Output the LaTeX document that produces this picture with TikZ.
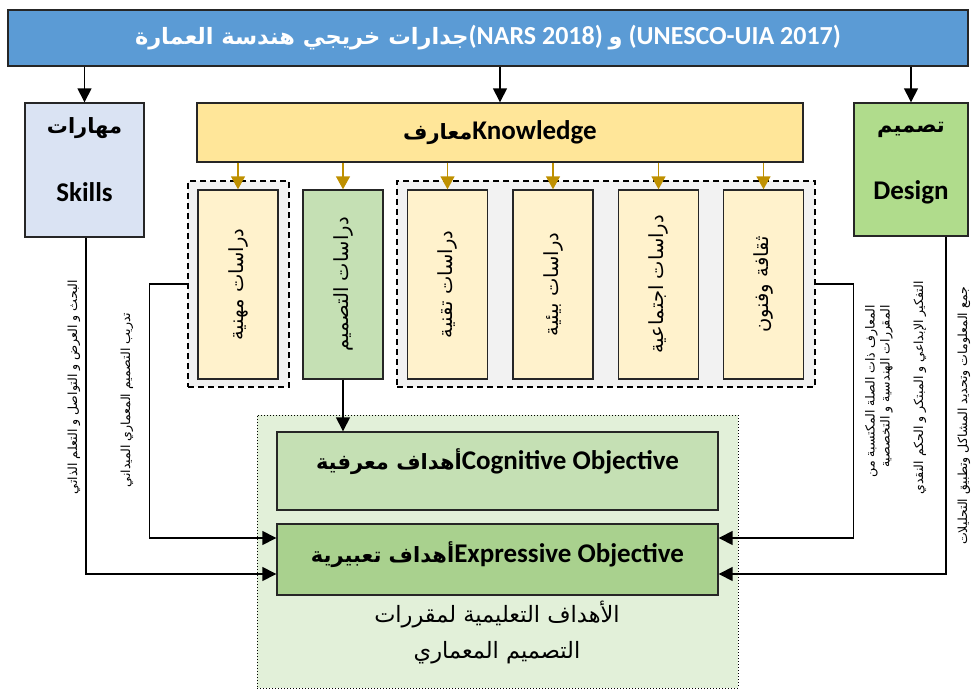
\documentclass[tikz,border=0pt]{standalone}
\usepackage{fontspec}
\setmainfont{Carlito}
\newfontfamily\ar[Script=Arabic]{DejaVu Sans}
\TeXXeTstate=1
\usetikzlibrary{arrows.meta,calc}
\definecolor{topblue}{HTML}{5B9BD5}
\definecolor{skillblue}{HTML}{DAE3F3}
\definecolor{knowgold}{HTML}{FFE699}
\definecolor{paleyellow}{HTML}{FFF2CC}
\definecolor{lightgreen}{HTML}{C5E0B4}
\definecolor{midgreen}{HTML}{A9D18E}
\definecolor{designgreen}{HTML}{B0DC8C}
\definecolor{groupgray}{HTML}{F2F2F2}
\definecolor{paleback}{HTML}{E2F0D9}
\definecolor{goldarrow}{HTML}{BF9000}
\begin{document}
\begin{tikzpicture}[x=1pt,y=-1pt,
  bx/.style={draw=black!85, line width=1.4pt, inner sep=0pt, align=center},
  grp/.style={draw=black, dash pattern=on 6pt off 4pt, line width=1.4pt, fill=groupgray, inner sep=0pt},
  smallbox/.style={bx, fill=paleyellow, minimum width=80pt, minimum height=189pt},
  arr/.style={line width=1.5pt, -{Triangle[length=14pt,width=14pt]}},
  garr/.style={draw=goldarrow, line width=1.5pt, -{Triangle[length=13pt,width=14pt]}},
  vtext/.style={rotate=90, inner sep=0pt, font=\ar\fontsize{19.5}{22}\selectfont},
  side/.style={rotate=90, inner sep=0pt, font=\ar\fontsize{12.5}{15}\selectfont},
  big/.style={font=\bfseries\fontsize{27}{30}\selectfont},
  arbig/.style={font=\ar\bfseries\fontsize{21}{24}\selectfont}
]
\useasboundingbox (0,0) rectangle (975,690);

% top bar
\node[bx, fill=topblue, minimum width=960pt, minimum height=56pt, text=white,
      font=\bfseries\fontsize{26}{28}\selectfont] (top) at (488,38)
  {{\ar\bfseries\fontsize{22.5}{26}\selectfont\beginR جدارات خريجي هندسة العمارة\endR}(NARS 2018) {\ar\bfseries\fontsize{22.5}{26}\selectfont\beginR و\endR} (UNESCO-UIA 2017)};

% skills
\node[bx, fill=skillblue, minimum width=119pt, minimum height=134pt] (skills) at (84.5,170) {};
\node[arbig] (skillsAr) at (84.5,128) {\beginR مهارات\endR};
\node[big] (skillsEn) at (84.5,192) {Skills};

% design
\node[bx, fill=designgreen, minimum width=114pt, minimum height=133pt] (design) at (911,169.5) {};
\node[arbig] (designAr) at (911,130) {\beginR تصميم\endR};
\node[big] (designEn) at (911,192) {Design};

% knowledge
\node[bx, fill=knowgold, minimum width=606pt, minimum height=59pt, big] (know) at (500,132.5)
  {{\ar\bfseries\fontsize{21}{24}\selectfont\beginR معارف\endR}Knowledge};

% dashed groups
\node[grp, minimum width=101pt, minimum height=206pt] (grp1) at (238.5,284) {};
\node[grp, minimum width=418pt, minimum height=206pt] (grp2) at (606,284) {};

% study boxes
\node[smallbox] (b1) at (238,284.5) {};
\node[bx, fill=lightgreen, minimum width=80pt, minimum height=189pt] (b2) at (343,284.5) {};
\node[smallbox] (b3) at (447.5,284.5) {};
\node[smallbox] (b4) at (553,284.5) {};
\node[smallbox] (b5) at (658.5,284.5) {};
\node[smallbox] (b6) at (763.5,284.5) {};
\node[vtext] (t1) at (b1) {\beginR دراسات مهنية\endR};
\node[vtext] (t2) at (b2) {\beginR دراسات التصميم\endR};
\node[vtext] (t3) at (b3) {\beginR دراسات تقنية\endR};
\node[vtext] (t4) at (b4) {\beginR دراسات بيئية\endR};
\node[vtext] (t5) at (b5) {\beginR دراسات اجتماعية\endR};
\node[vtext] (t6) at (b6) {\beginR ثقافة وفنون\endR};

% objectives container
\node[draw=black, dotted, line width=1pt, fill=paleback, minimum width=481pt, minimum height=273pt, inner sep=0pt] (cont) at (497.5,551.5) {};
\node[bx, fill=lightgreen, minimum width=441pt, minimum height=78pt] (cog) at (497.5,471) {};
\node[big] (cogT) at (497.5,462) {{\ar\bfseries\fontsize{21}{24}\selectfont\beginR أهداف معرفية\endR}Cognitive Objective};
\node[bx, fill=midgreen, minimum width=441pt, minimum height=71pt] (exp) at (497.5,559.5) {};
\node[big] (expT) at (497.5,555) {{\ar\bfseries\fontsize{21}{24}\selectfont\beginR أهداف تعبيرية\endR}Expressive Objective};
\node[align=center, font=\ar\fontsize{22.5}{36}\selectfont] (contT) at (497,633)
  {\beginR الأهداف التعليمية لمقررات\endR\\\beginR التصميم المعماري\endR};

% arrows from top bar
\draw[arr] (top.south -| skills.north) -- (skills.north);
\draw[arr] (top.south -| know.north) -- (know.north);
\draw[arr] (top.south -| design.north) -- (design.north);

% gold arrows
\foreach \b in {b1,b2,b3,b4,b5,b6}
  \draw[garr] (know.south -| \b.north) -- (\b.north);

% design studies to cognitive
\draw[arr] (b2.south) -- (b2.south |- cog.north);

% side connectors
\draw[arr] ($(skills.south)+(1.5,0)$) |- ($(exp.west)+(0,14.5)$);
\draw[arr] (grp1.west) -- ++(-38,0) |- ($(exp.west)+(0,-21.5)$);
\draw[arr] (grp2.east) -- ++(38,0) |- ($(exp.east)+(0,-21.5)$);
\draw[arr] ($(design.south)+(35,0)$) |- ($(exp.east)+(0,14.5)$);

% side texts
\node[side] (L1) at (74,387) {\beginR البحث و العرض و التواصل و التعلم الذاتي\endR};
\node[side] (L2) at (127,400) {\beginR تدريب التصميم المعماري الميداني\endR};
\node[side, anchor=east, align=right] (R1) at (879,305)
  {\beginR المعارف ذات الصلة المكتسبة من\endR\\\beginR المقررات الهندسية و التخصصية\endR};
\node[side] (R2) at (920,388) {\beginR التفكير الإبداعي و المبتكر و الحكم النقدي\endR};
\node[side] (R3) at (964,416) {\beginR جمع المعلومات وتحديد المشاكل وتطبيق التحليلات\endR};
\end{tikzpicture}
\end{document}
